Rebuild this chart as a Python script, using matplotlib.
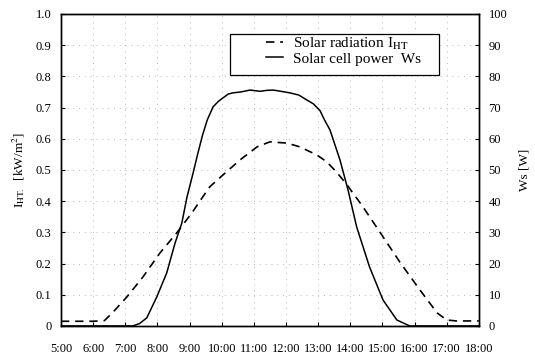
import matplotlib
matplotlib.use("Agg")
import matplotlib.pyplot as plt
from matplotlib.patches import Rectangle

plt.rcParams["font.family"] = ["Liberation Serif", "DejaVu Serif"]
plt.rcParams["mathtext.fontset"] = "stix"

# time of day in hours
RAD_T = [5.0, 6.0, 6.35, 6.6, 7.05, 7.55, 8.08, 8.6, 9.07, 9.32, 9.63, 10.04,
         10.57, 11.1, 11.5, 12.03, 12.43, 12.96, 13.27, 13.6, 13.9, 14.4,
         14.92, 15.54, 16.17, 16.7, 17.0, 17.3, 18.0]
# solar radiation I_HT [kW/m2]
RAD_V = [0.015, 0.015, 0.017, 0.042, 0.093, 0.157, 0.234, 0.298, 0.362, 0.400,
         0.446, 0.484, 0.532, 0.574, 0.590, 0.586, 0.574, 0.548, 0.526, 0.490,
         0.452, 0.381, 0.301, 0.205, 0.115, 0.042, 0.019, 0.016, 0.016]

PWR_T = [5.0, 7.0, 7.24, 7.45, 7.67, 7.98, 8.29, 8.55, 8.76, 8.92, 9.11, 9.26,
         9.4, 9.55, 9.73, 9.9, 10.04, 10.2, 10.35, 10.6, 10.88, 11.2, 11.4,
         11.6, 11.9, 12.12, 12.4, 12.65, 12.85, 13.06, 13.2, 13.37, 13.68,
         13.93, 14.2, 14.6, 15.02, 15.45, 15.85, 18.0]
# solar cell power Ws [W]
PWR_W = [0, 0, 0, 0.8, 2.6, 9.3, 17.0, 26.6, 33.0, 41.3, 49.0, 55.4,
         61.0, 66.0, 70.2, 72.0, 73.1, 74.3, 74.7, 75.0, 75.6, 75.2, 75.5,
         75.6, 75.1, 74.7, 74.0, 72.4, 71.2, 69.0, 66.0, 62.8, 53.2,
         43.6, 31.7, 18.9, 8.3, 1.9, 0, 0]

HOURS = list(range(5, 19))
HOUR_LABELS = [f"{h}:00" for h in HOURS]
LEFT_TICKS = [i / 10 for i in range(11)]
LEFT_LABELS = ["0"] + [f"{v:.1f}" for v in LEFT_TICKS[1:]]
RIGHT_TICKS = list(range(0, 101, 10))

fig = plt.figure(figsize=(5.35, 3.57), dpi=100, facecolor="white")
ax = fig.add_axes([0.114, 0.087, 0.781, 0.874])
ax2 = ax.twinx()

l1, = ax.plot(RAD_T, RAD_V, color="black", lw=1.2, ls=(0, (5, 3.5)),
              label="Solar radiation I$_{\\mathrm{HT}}$")
l2, = ax2.plot(PWR_T, PWR_W, color="black", lw=1.1,
               label="Solar cell power  Ws")

ax.set_xlim(5, 18)
ax.set_ylim(0, 1.0)
ax2.set_ylim(0, 100)
ax.set_xticks(HOURS)
ax.set_xticklabels(HOUR_LABELS)
ax.set_yticks(LEFT_TICKS)
ax.set_yticklabels(LEFT_LABELS)
ax2.set_yticks(RIGHT_TICKS)

ax.grid(True, color="#b8b8b8", ls=(0, (1, 5)), lw=0.7)
for a in (ax, ax2):
    a.tick_params(direction="in", length=3, width=0.8, labelsize=9, pad=7)
    for s in a.spines.values():
        s.set_linewidth(1.0)
ax.tick_params(axis="x", pad=12)

ax.set_ylabel("I$_{\\mathrm{HT.}}$  [kW/m$^2$]", fontsize=9.5, labelpad=6)
ax2.set_ylabel("Ws [W]", fontsize=9.5, labelpad=8)

# legend frame drawn separately so the padding can be uneven
box = Rectangle((0.404, 0.804), 0.500, 0.132, transform=ax2.transAxes,
                facecolor="white", edgecolor="black", lw=0.9, zorder=4)
ax2.add_patch(box)
leg = ax2.legend(handles=[l1, l2], loc="upper left",
                 bbox_to_anchor=(0.49, 0.93), fontsize=11,
                 handlelength=1.1, handletextpad=0.7, frameon=False,
                 borderpad=0, borderaxespad=0, labelspacing=0.0)
leg.set_zorder(5)

fig.savefig("out.png", dpi=100, facecolor="white")
